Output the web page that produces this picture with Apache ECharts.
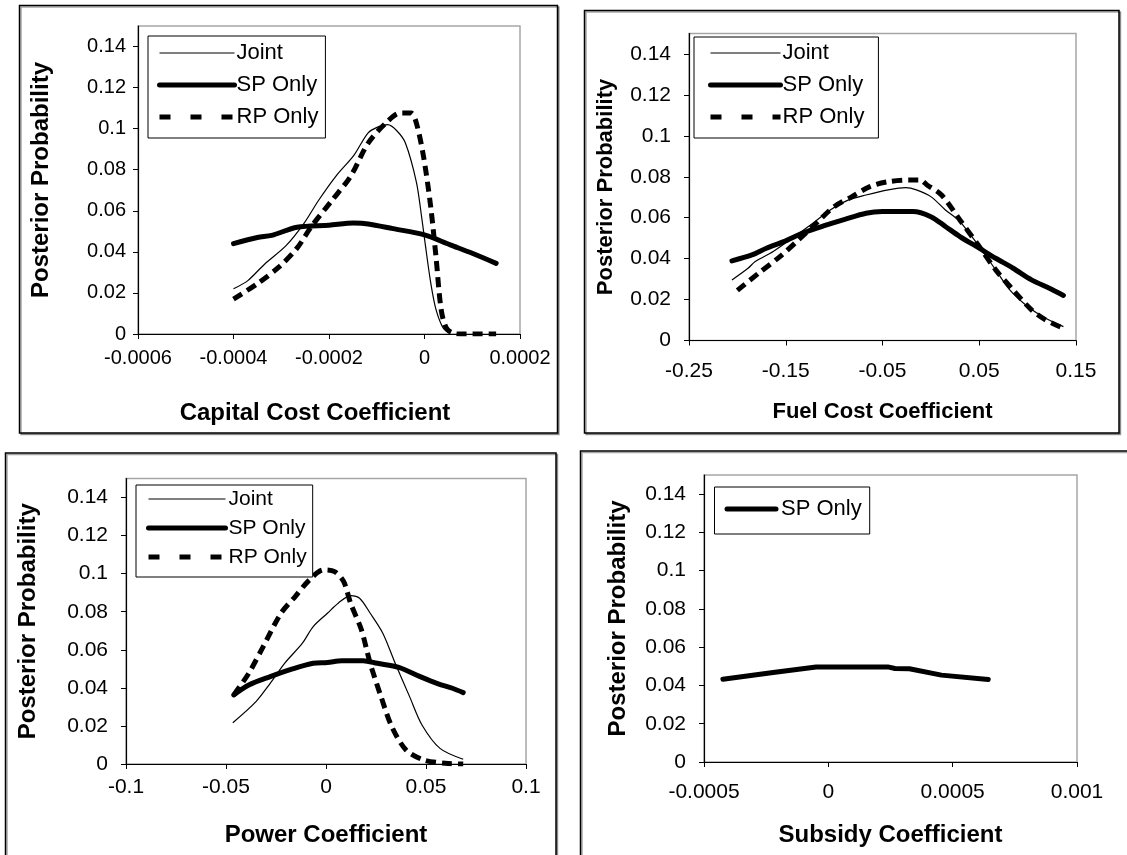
<!DOCTYPE html>
<html>
<head>
<meta charset="utf-8">
<script src="https://cdn.jsdelivr.net/npm/echarts@6/dist/echarts.min.js"></script>
<style>
html,body{margin:0;padding:0;background:#fff;}
#chart{width:1127px;height:855px;}
</style>
</head>
<body>
<div id="chart"></div>
<script>
// ---------- tick labels ----------
var yTicks = [0, 0.02, 0.04, 0.06, 0.08, 0.1, 0.12, 0.14];
var capTicks = [-0.0006, -0.0004, -0.0002, 0, 0.0002];
var fuelTicks = [-0.25, -0.15, -0.05, 0.05, 0.15];
var powerTicks = [-0.1, -0.05, 0, 0.05, 0.1];
var subsidyTicks = [-0.0005, 0, 0.0005, 0.001];

// ---------- axis titles ----------
var yTitle = 'Posterior Probability';
var xTitles = ['Capital Cost Coefficient', 'Fuel Cost Coefficient', 'Power Coefficient', 'Subsidy Coefficient'];
var seriesNames = ['Joint', 'SP Only', 'RP Only'];

// ---------- Capital cost ----------
var capJointX = [-0.0004, -0.00037, -0.000335, -0.00029, -0.000252, -0.000222, -0.000185, -0.000148, -0.000118, -0.000096, -0.000077, -0.000058, -0.00004, -0.000017, -0.000006, 0.000002, 0.000013, 0.000024, 0.000039, 0.000054];
var capJointY = [0.022, 0.026, 0.034, 0.043, 0.054, 0.065, 0.077, 0.087, 0.098, 0.101, 0.102, 0.099, 0.093, 0.074, 0.057, 0.043, 0.025, 0.012, 0.003, 0.0003];
var capSPX = [-0.0004, -0.00035, -0.00032, -0.000267, -0.0002, -0.000148, -0.000118, -0.000066, 0, 0.000054, 0.0001, 0.00015];
var capSPY = [0.044, 0.047, 0.048, 0.052, 0.053, 0.054, 0.0536, 0.0513, 0.0483, 0.0434, 0.0393, 0.0344];
var capRPX = [-0.0004, -0.000349, -0.000304, -0.000267, -0.000237, -0.000193, -0.000155, -0.000118, -0.000081, -0.000051, -0.000028, -0.000017, -0.000002, 0.000013, 0.000024, 0.000035, 0.000046, 0.000061, 0.000076, 0.00015];
var capRPY = [0.017, 0.0247, 0.0328, 0.0418, 0.0523, 0.0653, 0.0767, 0.093, 0.1027, 0.1076, 0.1076, 0.1027, 0.0864, 0.062, 0.0377, 0.0117, 0.0028, 0.0003, 0, 0];

// ---------- Fuel cost ----------
var fuelJointX = [-0.2056, -0.189, -0.1815, -0.163, -0.141, -0.122, -0.104, -0.085, -0.067, -0.044, -0.026, -0.015, 0, 0.015, 0.03, 0.05, 0.067, 0.0815, 0.1, 0.1185, 0.137];
var fuelJointY = [0.0296, 0.0353, 0.0386, 0.0435, 0.0508, 0.0573, 0.0638, 0.0687, 0.0711, 0.0736, 0.0747, 0.0736, 0.0703, 0.0638, 0.0581, 0.0459, 0.0345, 0.0247, 0.0166, 0.0109, 0.0068];
var fuelSPX = [-0.2056, -0.185, -0.17, -0.152, -0.133, -0.111, -0.089, -0.067, -0.05, -0.03, -0.0185, 0, 0.015, 0.03, 0.05, 0.067, 0.085, 0.104, 0.122, 0.137];
var fuelSPY = [0.0389, 0.0418, 0.0451, 0.0483, 0.0524, 0.056, 0.0592, 0.0622, 0.063, 0.063, 0.063, 0.0605, 0.0557, 0.0508, 0.0451, 0.0402, 0.0353, 0.0296, 0.0256, 0.022];
var fuelRPX = [-0.2, -0.178, -0.156, -0.137, -0.1185, -0.1, -0.0815, -0.063, -0.044, -0.022, -0.011, -0.004, 0.011, 0.03, 0.05, 0.067, 0.085, 0.104, 0.1185, 0.137];
var fuelRPY = [0.0245, 0.0329, 0.041, 0.0491, 0.0573, 0.0654, 0.0703, 0.0752, 0.0776, 0.0784, 0.0784, 0.076, 0.0711, 0.0589, 0.0459, 0.0345, 0.0247, 0.015, 0.0101, 0.006];

// ---------- Power ----------
var powerJointX = [-0.0466, -0.035, -0.0279, -0.0207, -0.0118, -0.0064, 0.0007, 0.0061, 0.0123, 0.0168, 0.0221, 0.0284, 0.0346, 0.0418, 0.048, 0.057, 0.0686];
var powerJointY = [0.0217, 0.0328, 0.0424, 0.0529, 0.0635, 0.0722, 0.0792, 0.0845, 0.0885, 0.0871, 0.0792, 0.0687, 0.0529, 0.0354, 0.0205, 0.0082, 0.0025];
var powerSPX = [-0.0461, -0.0386, -0.0279, -0.0171, -0.0064, 0.0007, 0.0079, 0.0186, 0.0257, 0.0364, 0.0471, 0.0561, 0.0632, 0.0686];
var powerSPY = [0.0363, 0.0415, 0.0459, 0.0498, 0.0529, 0.0533, 0.0543, 0.0543, 0.0529, 0.0508, 0.0459, 0.0421, 0.0398, 0.0375];
var powerRPX = [-0.0461, -0.0386, -0.0314, -0.0225, -0.0154, -0.0082, -0.0011, 0.0043, 0.0088, 0.0123, 0.0177, 0.0221, 0.0275, 0.0329, 0.04, 0.0489, 0.0596, 0.0686];
var powerRPY = [0.0363, 0.0477, 0.0617, 0.0792, 0.088, 0.0968, 0.102, 0.1011, 0.0959, 0.0845, 0.0705, 0.0529, 0.0354, 0.0196, 0.0074, 0.0021, 0.0004, 0];

// ---------- Subsidy ----------
var subsidySPX = [-0.000424, -0.000222, -0.000049, 0.000239, 0.000268, 0.000326, 0.000455, 0.000643];
var subsidySPY = [0.0433, 0.0468, 0.0497, 0.0497, 0.0489, 0.0487, 0.0454, 0.0431];

// ---------- build ----------
var FONT = '"Liberation Sans", Arial, sans-serif';
function fmt(v) { return String(parseFloat(Number(v).toPrecision(10))); }
function pairs(xs, ys) { return xs.map(function (x, i) { return [x, ys[i]]; }); }

// per-panel layout
var panels = [
  { grid: { left: 138, top: 26, width: 382, height: 308 }, ticks: capTicks, tickSize: 20, titleSize: 24, xGap: 67, yGap: 85, xMargin: 14, yMargin: 12, titlePad: [0, 28, 0, 0] },
  { grid: { left: 689, top: 33.5, width: 387, height: 307 }, ticks: fuelTicks, tickSize: 21, titleSize: 22, xGap: 60, yGap: 72, xMargin: 20, yMargin: 18, titlePad: 0 },
  { grid: { left: 126, top: 478.5, width: 400, height: 285.5 }, ticks: powerTicks, tickSize: 21, titleSize: 24, xGap: 59, yGap: 86, xMargin: 13, yMargin: 18, titlePad: 0 },
  { grid: { left: 704, top: 475, width: 373, height: 287 }, ticks: subsidyTicks, tickSize: 21, titleSize: 24, xGap: 61, yGap: 74, xMargin: 20, yMargin: 18, titlePad: 0 }
];

var grids = panels.map(function (p) {
  return Object.assign({ show: true, borderColor: '#a6a6a6', borderWidth: 1.5, backgroundColor: '#fff', containLabel: false }, p.grid);
});

var xAxes = panels.map(function (p, i) {
  var t = p.ticks;
  return {
    type: 'value', gridIndex: i, min: t[0], max: t[t.length - 1],
    name: xTitles[i], nameLocation: 'middle', nameGap: p.xGap,
    nameTextStyle: { fontFamily: FONT, fontWeight: 'bold', fontSize: p.titleSize, color: '#000', padding: p.titlePad },
    axisLine: { show: true, onZero: false, lineStyle: { color: '#000', width: 1.2 } },
    axisTick: { show: true, inside: false, length: 5, customValues: t, lineStyle: { color: '#000' } },
    axisLabel: { customValues: t, formatter: fmt, fontFamily: FONT, fontSize: p.tickSize, color: '#000', margin: p.xMargin, showMinLabel: true, showMaxLabel: true },
    splitLine: { show: false }
  };
});
var yAxes = panels.map(function (p, i) {
  return {
    type: 'value', gridIndex: i, min: 0, max: 0.15,
    name: yTitle, nameLocation: 'middle', nameGap: p.yGap, nameRotate: 90,
    nameTextStyle: { fontFamily: FONT, fontWeight: 'bold', fontSize: p.titleSize, color: '#000' },
    axisLine: { show: true, onZero: false, lineStyle: { color: '#000', width: 1.2 } },
    axisTick: { show: true, inside: false, length: 5, customValues: yTicks, lineStyle: { color: '#000' } },
    axisLabel: { customValues: yTicks, formatter: fmt, fontFamily: FONT, fontSize: p.tickSize, color: '#000', margin: p.yMargin },
    splitLine: { show: false }
  };
});

var JOINT = { color: '#000', width: 1.2, type: 'solid' };
var SP = { color: '#000', width: 5, type: 'solid', cap: 'round', join: 'round' };
var RP = { color: '#000', width: 5, type: [10, 6], cap: 'butt' };
function line(name, xs, ys, gi, ls, smooth) {
  return {
    type: 'line', name: name, xAxisIndex: gi, yAxisIndex: gi,
    data: pairs(xs, ys), symbol: 'none', smooth: smooth,
    lineStyle: ls, itemStyle: { color: '#000' }, silent: true, z: name === 'Joint' ? 3 : 2
  };
}
var series = [
  line(seriesNames[1], capSPX, capSPY, 0, SP, 0.3),
  line(seriesNames[2], capRPX, capRPY, 0, RP, 0.3),
  line(seriesNames[0], capJointX, capJointY, 0, JOINT, 0.3),
  line(seriesNames[1], fuelSPX, fuelSPY, 1, SP, 0.3),
  line(seriesNames[2], fuelRPX, fuelRPY, 1, RP, 0.3),
  line(seriesNames[0], fuelJointX, fuelJointY, 1, JOINT, 0.3),
  line(seriesNames[1], powerSPX, powerSPY, 2, SP, 0.3),
  line(seriesNames[2], powerRPX, powerRPY, 2, RP, 0.3),
  line(seriesNames[0], powerJointX, powerJointY, 2, JOINT, 0.3),
  line(seriesNames[1], subsidySPX, subsidySPY, 3, SP, false)
];

var HIDE = { opacity: 0 };
var legendData3 = [
  { name: seriesNames[0], itemStyle: HIDE, lineStyle: { width: 1.2, type: 'solid', color: '#000' } },
  { name: seriesNames[1], itemStyle: HIDE, lineStyle: { width: 5, type: 'solid', color: '#000', cap: 'round' } },
  { name: seriesNames[2], itemStyle: HIDE, lineStyle: { width: 5, type: [11, 20], color: '#000', cap: 'butt' } }
];
function legend(left, top, itemWidth, itemGap, padding, data, fontSize, textShift) {
  return {
    orient: 'vertical', left: left, top: top, itemWidth: itemWidth, itemHeight: 14, itemGap: itemGap,
    padding: padding, borderColor: '#000', borderWidth: 1, backgroundColor: '#fff',
    selectedMode: false, data: data,
    textStyle: { fontFamily: FONT, fontSize: fontSize, color: '#000', lineHeight: 24, padding: [0, 0, 0, textShift] }
  };
}
var legends = [
  legend(148, 36, 75, 8, [5, 7, 9, 9], legendData3, 22, -3),
  legend(694, 37, 70, 8, [4, 14, 9, 14], legendData3, 22, -3),
  legend(136, 485, 77, 5, [2, 6, 8, 10], legendData3, 21, -2),
  legend(714.5, 487, 49, 10, [10, 8, 13, 10], [legendData3[1]], 22, 0)
];

function box(x, y, w, h) {
  return {
    type: 'rect', shape: { x: x, y: y, width: w, height: h }, silent: true, z: -10,
    style: { fill: '#fff', stroke: '#000', lineWidth: 1.5, shadowColor: 'rgba(0,0,0,0.35)', shadowOffsetX: 1.5, shadowOffsetY: 1.5 }
  };
}

var chart = echarts.init(document.getElementById('chart'), null, { renderer: 'canvas' });
chart.setOption({
  animation: false,
  backgroundColor: '#fff',
  graphic: { elements: [box(19.5, 5.5, 538, 427.5), box(584.5, 10.5, 534.5, 422.5), box(5.5, 453, 550.5, 420), box(580.5, 451, 560, 420)] },
  grid: grids,
  xAxis: xAxes,
  yAxis: yAxes,
  legend: legends,
  series: series
});
</script>
</body>
</html>
